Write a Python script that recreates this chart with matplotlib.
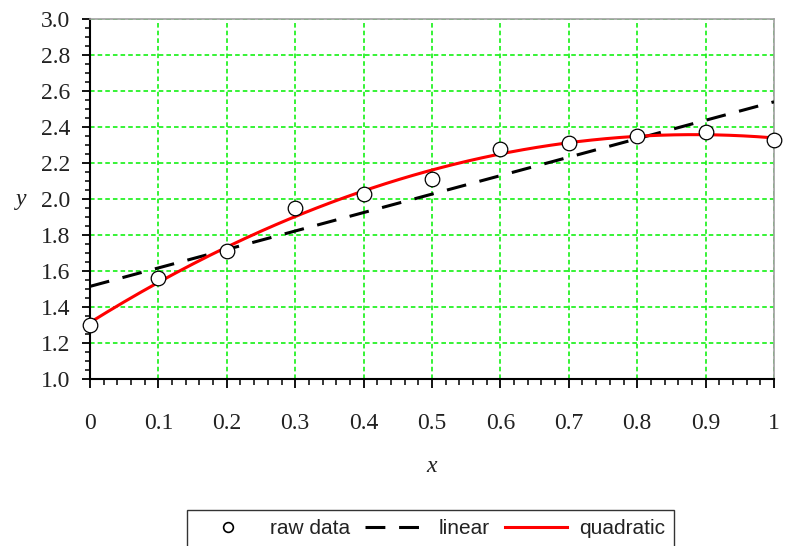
import numpy as np
import matplotlib
matplotlib.use("Agg")
import matplotlib.pyplot as plt
from matplotlib.ticker import MultipleLocator, FixedLocator
from matplotlib.lines import Line2D

# data
x_data = [0.0, 0.1, 0.2, 0.3, 0.4, 0.5, 0.6, 0.7, 0.8, 0.9, 1.0]
y_data = [1.30, 1.56, 1.71, 1.95, 2.03, 2.11, 2.28, 2.31, 2.35, 2.37, 2.33]
x_ticks = [0, 0.1, 0.2, 0.3, 0.4, 0.5, 0.6, 0.7, 0.8, 0.9, 1.0]
x_tick_labels = ["0", "0.1", "0.2", "0.3", "0.4", "0.5", "0.6", "0.7", "0.8", "0.9", "1"]
y_ticks = [1.0, 1.2, 1.4, 1.6, 1.8, 2.0, 2.2, 2.4, 2.6, 2.8, 3.0]
y_tick_labels = ["1.0", "1.2", "1.4", "1.6", "1.8", "2.0", "2.2", "2.4", "2.6", "2.8", "3.0"]
series_names = ["raw data", "linear", "quadratic"]

xa = np.array(x_data)
ya = np.array(y_data)
lin = np.polyfit(xa, ya, 1)
quad = np.polyfit(xa, ya, 2)
xs = np.linspace(0, 1, 200)

fig = plt.figure(figsize=(7.86, 5.46), dpi=100)
ax = fig.add_axes([90/786, 1-379/546, (774-90)/786, (379-19)/546])

serif = "Liberation Serif"
sans = "Liberation Sans"

ax.plot(xs, np.polyval(lin, xs), color="black", lw=2.2, linestyle=(0, (6.5, 4.5)),
        zorder=3, label=series_names[1])
ax.plot(xs, np.polyval(quad, xs), color="red", lw=2.2, zorder=4, label=series_names[2])
ax.plot(x_data, y_data, linestyle="none", marker="o", markersize=10.5,
        markerfacecolor="white", markeredgecolor="black", markeredgewidth=0.9,
        zorder=6, clip_on=False, label=series_names[0])

ax.set_xlim(0, 1)
ax.set_ylim(1.0, 3.0)
ax.xaxis.set_major_locator(FixedLocator(x_ticks))
ax.set_xticklabels(x_tick_labels)
ax.yaxis.set_major_locator(FixedLocator(y_ticks))
ax.set_yticklabels(y_tick_labels)
ax.xaxis.set_minor_locator(MultipleLocator(0.02))
ax.yaxis.set_minor_locator(MultipleLocator(0.05))

ax.grid(True, which="major", color="#00f000", linestyle=(0, (3, 2)), lw=1.1, zorder=1)
ax.set_axisbelow(True)

for lab in ax.get_xticklabels() + ax.get_yticklabels():
    lab.set_fontfamily(serif)
    lab.set_fontsize(17)
    lab.set_color("#222222")

ax.tick_params(axis="x", which="major", direction="out", length=6.5, width=1.3, pad=18)
ax.tick_params(axis="x", which="minor", direction="out", length=4, width=1.1)
ax.tick_params(axis="y", which="major", direction="out", length=6, width=1.3, pad=8)
ax.tick_params(axis="y", which="minor", direction="out", length=3.5, width=1.1)

for side in ("left", "bottom"):
    ax.spines[side].set_color("black")
    ax.spines[side].set_linewidth(1.5)
for side in ("top", "right"):
    ax.spines[side].set_color("#a0a0a0")
    ax.spines[side].set_linewidth(1.2)

fig.text(432/786, 1-467/546, "x", fontfamily=serif, fontstyle="italic", fontsize=17,
         ha="center", va="center", color="#222222")
fig.text(21/786, 1-199/546, "y", fontfamily=serif, fontstyle="italic", fontsize=17,
         ha="center", va="center", color="#222222")

handles = [
    Line2D([], [], linestyle="none", marker="o", markersize=7, markerfacecolor="white",
           markeredgecolor="black", markeredgewidth=1.2),
    Line2D([], [], color="black", lw=2.2, linestyle=(0, (6.5, 4.5))),
    Line2D([], [], color="red", lw=2.2),
]
leg = fig.legend(handles, series_names, loc="upper center",
                 bbox_to_anchor=((188+673)/2/786, 1-510/546), ncol=3,
                 prop={"family": sans, "size": 15}, frameon=True, fancybox=False,
                 edgecolor="black", handlelength=3.0, handletextpad=0.55,
                 columnspacing=0.7, borderpad=0.45, borderaxespad=0)
leg.get_frame().set_linewidth(1.0)
for t in leg.get_texts():
    t.set_color("#222222")

fig.savefig("out.png", dpi=100)
